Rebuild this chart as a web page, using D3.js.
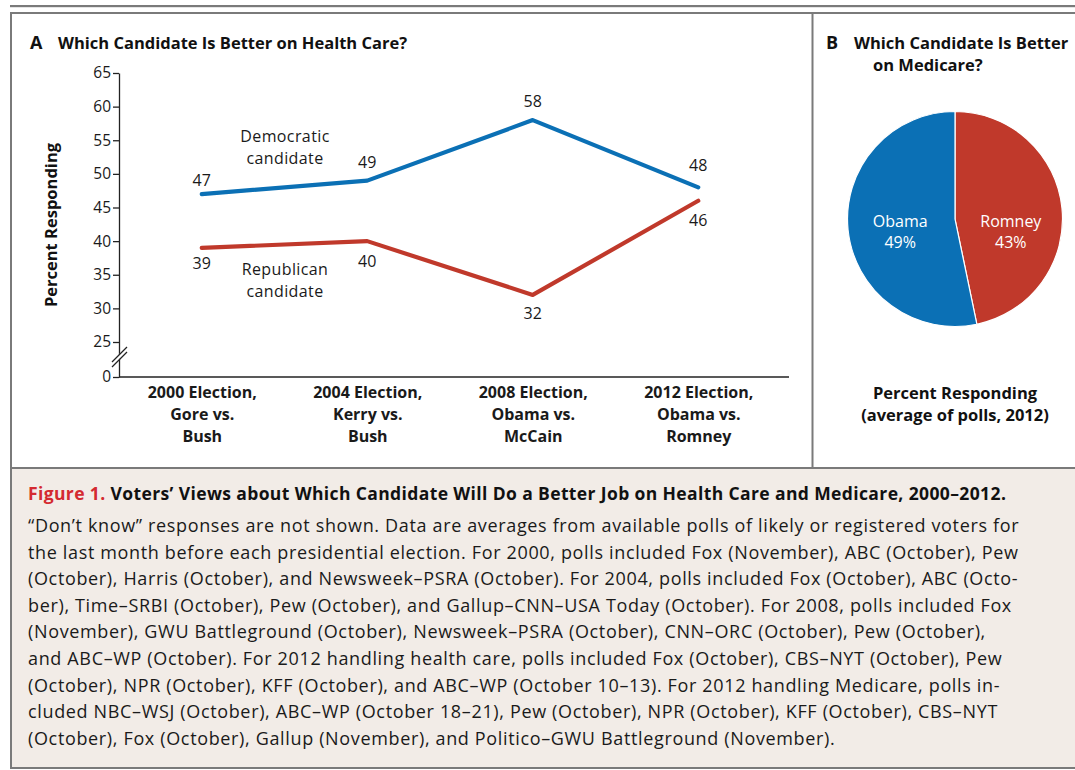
<!DOCTYPE html>
<html>
<head>
<meta charset="utf-8">
<script src="https://d3js.org/d3.v7.min.js"></script>
<title>Which Candidate Is Better on Health Care</title>
<style>
  body { margin: 0; background: #fff; }
  svg { display: block; font-family: "Open Sans", Lato, sans-serif; }
  .axis text { font-size: 15.5px; fill: #1a1a1a; font-family: "Open Sans", sans-serif; }
  .axis path, .axis line { stroke: #222; stroke-width: 1.3px; }
  .bold { font-weight: bold; }
</style>
</head>
<body>
<div id="chart"></div>
<script>
// ---- data ----
var elections = ["2000", "2004", "2008", "2012"];
var electionLabels = [
  ["2000 Election,", "Gore vs.", "Bush"],
  ["2004 Election,", "Kerry vs.", "Bush"],
  ["2008 Election,", "Obama vs.", "McCain"],
  ["2012 Election,", "Obama vs.", "Romney"]
];
var democratic = [47, 49, 58, 48];
var republican = [39, 40, 32, 46];
var yTicks = [0, 25, 30, 35, 40, 45, 50, 55, 60, 65];

var pieNames = ["Romney", "Obama"];
var pieValues = [43, 49];

var captionTitle = "Voters\u2019 Views about Which Candidate Will Do a Better Job on Health Care and Medicare, 2000\u20132012.";
var captionLines = [
  "\u201CDon\u2019t know\u201D responses are not shown. Data are averages from available polls of likely or registered voters for",
  "the last month before each presidential election. For 2000, polls included Fox (November), ABC (October), Pew",
  "(October), Harris (October), and Newsweek\u2013PSRA (October). For 2004, polls included Fox (October), ABC (Octo-",
  "ber), Time\u2013SRBI (October), Pew (October), and Gallup\u2013CNN\u2013USA Today (October). For 2008, polls included Fox",
  "(November), GWU Battleground (October), Newsweek\u2013PSRA (October), CNN\u2013ORC (October), Pew (October),",
  "and ABC\u2013WP (October). For 2012 handling health care, polls included Fox (October), CBS\u2013NYT (October), Pew",
  "(October), NPR (October), KFF (October), and ABC\u2013WP (October 10\u201313). For 2012 handling Medicare, polls in-",
  "cluded NBC\u2013WSJ (October), ABC\u2013WP (October 18\u201321), Pew (October), NPR (October), KFF (October), CBS\u2013NYT",
  "(October), Fox (October), Gallup (November), and Politico\u2013GWU Battleground (November)."
];

// label nudges (pixels above / below each point)
var demLabelDy = [-8, -13, -13, -16];
var repLabelDy = [21, 26, 24, 25];

var blue = "#0b70b5", red = "#c0392b", frame = "#7a7a7a";

var W = 1075, H = 770;
var svg = d3.select("#chart").append("svg").attr("width", W).attr("height", H);

// ---- frames ----
svg.append("rect").attr("x", 10).attr("y", 5).attr("width", W).attr("height", 2.2).attr("fill", frame);
svg.append("rect").attr("x", 11).attr("y", 13).attr("width", W).attr("height", 455)
  .attr("fill", "#fff").attr("stroke", frame).attr("stroke-width", 2);
svg.append("line").attr("x1", 812.5).attr("x2", 812.5).attr("y1", 13).attr("y2", 468)
  .attr("stroke", frame).attr("stroke-width", 2);
svg.append("rect").attr("x", 11).attr("y", 468).attr("width", W).attr("height", 300)
  .attr("fill", "#f2ece7").attr("stroke", frame).attr("stroke-width", 2);

// ---- panel A ----
var titleA = svg.append("text").attr("x", 30).attr("y", 49).attr("class", "bold")
  .style("font-size", "16.5px").attr("fill", "#111");
titleA.append("tspan").style("font-size", "18px").text("A");
titleA.append("tspan").attr("x", 58).text("Which Candidate Is Better on Health Care?");

var y = d3.scaleLinear().domain([0, 25, 65]).range([377, 342, 73]);
var x = d3.scalePoint().domain(elections).range([119, 781]).padding(0.5);

svg.append("g").attr("class", "axis").attr("transform", "translate(119,0)")
  .call(d3.axisLeft(y).tickValues(yTicks).tickSize(6).tickPadding(2).tickSizeOuter(0));

// axis break
var brk = svg.append("g");
brk.append("polygon").attr("points", "112,362 126,347 126,352 112,367").attr("fill", "#fff");
brk.append("line").attr("x1", 112).attr("y1", 362).attr("x2", 127).attr("y2", 347).attr("stroke", "#222").attr("stroke-width", 1.2);
brk.append("line").attr("x1", 112).attr("y1", 367).attr("x2", 127).attr("y2", 352).attr("stroke", "#222").attr("stroke-width", 1.2);

// x axis
var xAxis = svg.append("g").attr("class", "axis").attr("transform", "translate(0," + y(0) + ")")
  .call(d3.axisBottom(x).tickSize(0).tickFormat(""));
xAxis.select(".domain").attr("d", "M119,0H789");
xAxis.selectAll(".tick").each(function (d, i) {
  var t = d3.select(this).append("text").attr("class", "bold")
    .style("font-size", "16px").attr("text-anchor", "middle").attr("fill", "#111");
  electionLabels[i].forEach(function (s, j) {
    t.append("tspan").attr("x", 0).attr("y", 21 + j * 22).text(s);
  });
});

// y axis title
svg.append("text").attr("class", "bold").style("font-size", "16.5px").attr("fill", "#111")
  .attr("text-anchor", "middle").attr("transform", "translate(57,225) rotate(-90)")
  .text("Percent Responding");

var line = d3.line().x(function (d, i) { return x(elections[i]); }).y(function (d) { return y(d); });

[[democratic, blue, demLabelDy], [republican, red, repLabelDy]].forEach(function (s) {
  svg.append("path").datum(s[0]).attr("d", line).attr("fill", "none")
    .attr("stroke", s[1]).attr("stroke-width", 4.2).attr("stroke-linecap", "round")
    .attr("stroke-linejoin", "round");
  svg.selectAll(null).data(s[0]).enter().append("text")
    .attr("x", function (d, i) { return x(elections[i]); })
    .attr("y", function (d, i) { return y(d) + s[2][i]; })
    .attr("text-anchor", "middle").style("font-size", "16px").attr("fill", "#1a1a1a")
    .text(function (d) { return d; });
});

// series labels
var seriesLabel = function (lines, cy) {
  var t = svg.append("text").attr("text-anchor", "middle").style("font-size", "16px")
    .style("letter-spacing", "0.4px").attr("fill", "#1a1a1a");
  lines.forEach(function (s, j) { t.append("tspan").attr("x", 285).attr("y", cy + j * 21.5).text(s); });
};
seriesLabel(["Democratic", "candidate"], 142);
seriesLabel(["Republican", "candidate"], 275);

// ---- panel B ----
var titleB = svg.append("text").attr("class", "bold").style("font-size", "16.5px").attr("fill", "#111");
titleB.append("tspan").attr("x", 826).attr("y", 49).style("font-size", "18px").text("B");
titleB.append("tspan").attr("x", 854).attr("y", 49).text("Which Candidate Is Better");
titleB.append("tspan").attr("x", 873).attr("y", 71).text("on Medicare?");

var cx = 955, cy = 219, r = 107.5;
var pie = d3.pie().sort(null)(pieValues);
var arc = d3.arc().innerRadius(0).outerRadius(r);
var pg = svg.append("g").attr("transform", "translate(" + cx + "," + cy + ")");
pg.selectAll("path").data(pie).enter().append("path")
  .attr("d", arc).attr("fill", function (d, i) { return i === 0 ? red : blue; })
  .attr("stroke", "#fff").attr("stroke-width", 1.2);
var labArc = d3.arc().innerRadius(r * 0.55).outerRadius(r * 0.55);
pg.selectAll(".pl").data(pie).enter().append("text")
  .attr("text-anchor", "middle").style("font-size", "16px").attr("fill", "#fff")
  .each(function (d, i) {
    var c = labArc.centroid(d);
    var t = d3.select(this);
    t.append("tspan").attr("x", c[0] + (i === 0 ? -3 : 4)).attr("y", 8).text(pieNames[i]);
    t.append("tspan").attr("x", c[0] + (i === 0 ? -3 : 4)).attr("y", 29).text(pieValues[i] + "%");
  });

var pr = svg.append("text").attr("class", "bold").style("font-size", "16.5px")
  .attr("text-anchor", "middle").attr("fill", "#111");
pr.append("tspan").attr("x", cx).attr("y", 399).text("Percent Responding");
pr.append("tspan").attr("x", cx).attr("y", 421).text("(average of polls, 2012)");

// ---- caption ----
var ct = svg.append("text").attr("x", 28).attr("y", 500).attr("class", "bold")
  .style("font-size", "17.5px").style("letter-spacing", "0.38px").attr("fill", "#111");
ct.append("tspan").attr("fill", "#d42a30").text("Figure 1. ");
ct.append("tspan").text(captionTitle);

svg.selectAll(".cap").data(captionLines).enter().append("text")
  .attr("x", 28).attr("y", function (d, i) { return 532 + i * 26.6; })
  .style("font-size", "18px").style("letter-spacing", "0.65px").attr("fill", "#1a1a1a")
  .text(function (d) { return d; });
</script>
</body>
</html>
